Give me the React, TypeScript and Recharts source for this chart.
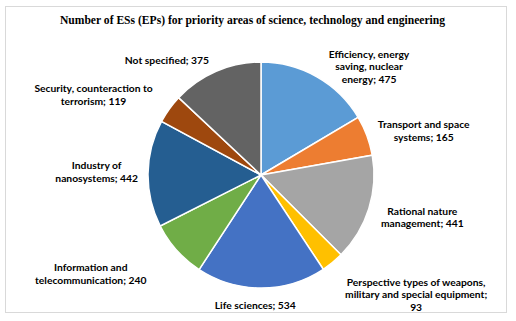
import { PieChart, Pie, Cell } from "recharts";

const categories = [
  "Efficiency, energy saving, nuclear energy",
  "Transport and space systems",
  "Rational nature management",
  "Perspective types of weapons, military and special equipment",
  "Life sciences",
  "Information and telecommunication",
  "Industry of nanosystems",
  "Security, counteraction to terrorism",
  "Not specified",
];
const counts = [475, 165, 441, 93, 534, 240, 442, 119, 375];
const colors = ["#5B9BD5", "#ED7D31", "#A5A5A5", "#FFC000", "#4472C4", "#70AD47", "#255E91", "#9E480E", "#636363"];

// label layout: wrap width (chars) and a small nudge from the computed anchor
const wrapAt = [18, 19, 15, 31, 30, 22, 16, 26, 30];
const nudge: [number, number][] = [
  [3, 5], [-6, 1], [-5, 3], [1, 18], [-6, -1], [-17, 11], [8, -2], [-2, -4], [0, 5],
];

const rows = categories.map((name, i) => ({ name, value: counts[i] }));

const FONT = "bold 10.3px Lato";
const LINE_H = 12.5;
const RAD = Math.PI / 180;

let ctx: CanvasRenderingContext2D | null = null;
function measure(s: string) {
  if (!ctx) ctx = document.createElement("canvas").getContext("2d");
  if (!ctx) return s.length * 5;
  ctx.font = FONT;
  return ctx.measureText(s).width;
}

function wrap(text: string, max: number) {
  const lines: string[] = [];
  let cur = "";
  for (const w of text.split(" ")) {
    const next = cur ? cur + " " + w : w;
    if (next.length > max && cur) {
      lines.push(cur);
      cur = w;
    } else cur = next;
  }
  if (cur) lines.push(cur);
  return lines;
}

function renderLabel(p: any) {
  const { cx, cy, midAngle, outerRadius, index, name, value } = p;
  const r = outerRadius + 18;
  const sin = Math.sin(-midAngle * RAD);
  const cos = Math.cos(-midAngle * RAD);
  const ax = cx + r * cos;
  const ay = cy + r * sin;
  const lines = wrap(`${name}; ${value}`, wrapAt[index]);
  const w = Math.max(...lines.map(measure));
  let bx = ax;
  if (cos > 0.1) bx = ax + w / 2;
  else if (cos < -0.1) bx = ax - w / 2;
  bx += nudge[index][0];
  const by = ay + nudge[index][1];
  const y0 = by - ((lines.length - 1) * LINE_H) / 2;
  return (
    <text
      key={`lbl-${index}`}
      textAnchor="middle"
      dominantBaseline="central"
      fontFamily="Lato, sans-serif"
      fontWeight="bold"
      fontSize={10.3}
      fill="#000"
    >
      {lines.map((l, k) => (
        <tspan key={k} x={bx} y={y0 + k * LINE_H}>
          {l}
        </tspan>
      ))}
    </text>
  );
}

export default function App() {
  return (
    <div style={{ position: "absolute", left: 0, top: 0, width: 516, height: 321, background: "#fff" }}>
      <div
        style={{
          position: "absolute",
          left: 5,
          top: 6,
          width: 500,
          height: 305,
          border: "1px solid #d9d9d9",
        }}
      />
      <div
        style={{
          position: "absolute",
          left: 0,
          top: 14,
          width: 505,
          textAlign: "center",
          fontFamily: "'Liberation Serif', serif",
          fontWeight: "bold",
          fontSize: 11.6,
          color: "#000",
        }}
      >
        Number of ESs (EPs) for priority areas of science, technology and engineering
      </div>
      <div style={{ position: "absolute", left: 0, top: 0 }}>
        <PieChart width={516} height={321}>
          <Pie
            data={rows}
            dataKey="value"
            nameKey="name"
            cx={256}
            cy={170}
            outerRadius={113}
            startAngle={90}
            endAngle={-270}
            stroke="#fff"
            strokeWidth={1.5}
            label={renderLabel}
            labelLine={false}
            isAnimationActive={false}
          >
            {rows.map((r, i) => (
              <Cell key={r.name} fill={colors[i]} />
            ))}
          </Pie>
        </PieChart>
      </div>
    </div>
  );
}
